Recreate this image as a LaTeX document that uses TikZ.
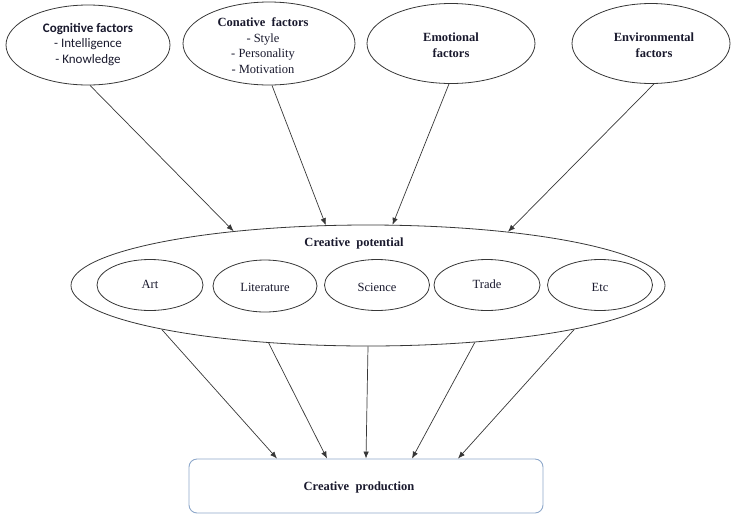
\documentclass[tikz,border=0pt]{standalone}
\usepackage{fontspec}
\setmainfont{Liberation Serif}
\newfontfamily\tnrb{Liberation Serif}[UprightFont={* Bold}]
\newfontfamily\calib{Carlito}
\newfontfamily\calibb{Carlito}[UprightFont={* Bold}]
\usetikzlibrary{shapes.geometric,arrows.meta}
\definecolor{linec}{RGB}{55,55,55}
\definecolor{txtc}{RGB}{25,25,45}
\definecolor{boxc}{RGB}{142,168,202}
\newcommand{\tb}[1]{{\tnrb #1}}
\begin{document}
\begin{tikzpicture}[x=1pt,y=-1pt,
  ell/.style={ellipse, draw=linec, line width=0.8pt, inner sep=0pt},
  lbl/.style={text=txtc, font=\fontsize{12.5}{15.6}\selectfont, align=center, inner sep=0pt},
  arr/.style={draw=linec, line width=0.7pt, -{Latex[length=7pt,width=5.5pt]}}]
\useasboundingbox (0,0) rectangle (731,515);

% top factor ellipses
\node[ell, minimum width=164pt, minimum height=80pt] (cog) at (88,45) {};
\node[ell, minimum width=172pt, minimum height=83pt] (con) at (269,43.5) {};
\node[ell, minimum width=168pt, minimum height=80pt] (emo) at (451,43.5) {};
\node[ell, minimum width=158pt, minimum height=80pt] (env) at (651,43.5) {};

\node[lbl, font=\calib\fontsize{13}{15.6}\selectfont] (cogT) at (88,44.5)
  {{\calibb Cognitive factors}\\- Intelligence\\- Knowledge};
\node[lbl] (conT) at (263,45.5)
  {\tb{Conative\ \ factors}\\- Style\\- Personality\\- Motivation};
\node[lbl] (emoT) at (451,45) {\tb{Emotional}\\\tb{factors}};
\node[lbl] (envT) at (654,45) {\tb{Environmental}\\\tb{factors}};

% creative potential
\node[ell, minimum width=594pt, minimum height=121pt] (pot) at (368,285.5) {};
\node[lbl] (potT) at (354,243) {\tb{Creative\ \ potential}};

\node[ell, minimum width=106pt, minimum height=51pt] (art) at (150,285) {};
\node[ell, minimum width=104pt, minimum height=52pt] (lit) at (265,286) {};
\node[ell, minimum width=105pt, minimum height=51pt] (sci) at (377,285) {};
\node[ell, minimum width=106pt, minimum height=51pt] (tra) at (487,285) {};
\node[ell, minimum width=105pt, minimum height=51pt] (etc) at (600,285) {};
\node[lbl] (artT) at (150,284) {Art};
\node[lbl] (litT) at (265,287) {Literature};
\node[lbl] (sciT) at (377,287) {Science};
\node[lbl] (traT) at (487,284.5) {Trade};
\node[lbl] (etcT) at (600,287) {Etc};

% production box
\node[draw=boxc, line width=0.9pt, rounded corners=8pt, minimum width=354pt,
      minimum height=54pt, inner sep=0pt] (prod) at (366,486) {};
\node[lbl] (prodT) at (359,487) {\tb{Creative\ \ production}};

% arrows into potential
\draw[arr] ([xshift=2pt]cog.south) -- (pot.158.4);
\draw[arr] ([xshift=3pt]con.south) -- (pot.125);
\draw[arr] ([xshift=-2pt]emo.south) -- (pot.68.2);
\draw[arr] ([xshift=3pt]env.south) -- (pot.21.5);

% arrows into production
\draw[arr] (pot.192.1) -- ([xshift=-89pt]prod.north);
\draw[arr] (pot.210.4) -- ([xshift=-39pt]prod.north);
\draw[arr] (pot.270) -- (prod.north);
\draw[arr] (pot.332.2) -- ([xshift=46pt]prod.north);
\draw[arr] (pot.348) -- ([xshift=92pt]prod.north);
\end{tikzpicture}
\end{document}
